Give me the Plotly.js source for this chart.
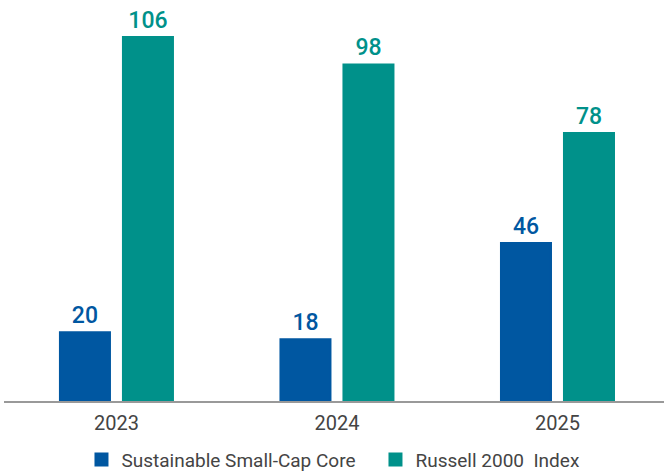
<!DOCTYPE html>
<html>
<head>
<meta charset="utf-8">
<script src="https://cdn.plot.ly/plotly-3.0.1.min.js"></script>
<style>html,body{margin:0;padding:0;background:#fff;}#chart{width:664px;height:473px;}</style>
</head>
<body>
<div id="chart"></div>
<script>
const years = ["2023", "2024", "2025"];
const sustainable = [20, 18, 46];
const russell = [106, 98, 78];
const seriesNames = ["Sustainable Small-Cap Core", "Russell 2000  Index"];

const blue = "#0057A1";
const teal = "#00918A";
const font = "Roboto, 'Liberation Sans', sans-serif";

const traces = [
  {
    type: "bar", name: seriesNames[0], x: years, y: sustainable,
    marker: {color: blue, line: {color: blue, width: 2}}, width: 0.2268, offset: -0.2563,
    legendwidth: 249,
    text: sustainable.map(String), textposition: "outside", cliponaxis: false,
    textfont: {family: font, size: 23, color: blue, weight: 500}
  },
  {
    type: "bar", name: seriesNames[1], x: years, y: russell,
    marker: {color: teal, line: {color: teal, width: 2}}, width: 0.2268, offset: 0.0294,
    text: russell.map(String), textposition: "outside", cliponaxis: false,
    textfont: {family: font, size: 23, color: teal, weight: 500}
  }
];

const layout = {
  width: 664, height: 473,
  margin: {l: 4, r: 0, t: 0, b: 72},
  paper_bgcolor: "#fff", plot_bgcolor: "#fff",
  barmode: "group",
  showlegend: true,
  xaxis: {
    type: "category", range: [-0.51, 2.483],
    showline: true, linecolor: "#999", linewidth: 1.5,
    ticks: "", showgrid: false, zeroline: false, ticklabelstandoff: 3,
    tickfont: {family: font, size: 20, color: "#444"}
  },
  yaxis: {
    range: [0, 116.76], visible: false, showgrid: false, zeroline: false
  },
  legend: {
    orientation: "h", x: 0.1174, xanchor: "left",
    yref: "container", y: 0.028, yanchor: "middle",
    font: {family: font, size: 19, color: "#444"},
    itemwidth: 30
  },
  font: {family: font}
};

Plotly.newPlot("chart", traces, layout, {displayModeBar: false, staticPlot: true});
</script>
</body>
</html>
